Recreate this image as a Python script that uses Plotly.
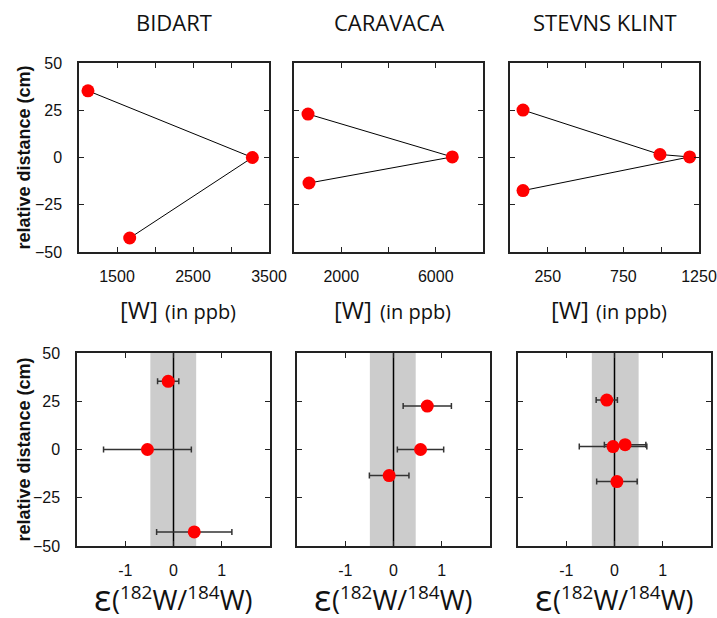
import plotly.graph_objects as go

# ---------------- data ----------------
sites = ["BIDART", "CARAVACA", "STEVNS KLINT"]

# top row: W concentration (ppb) vs relative distance (cm)
w_bidart = [1118, 3281, 1667]
dw_bidart = [35.3, 0, -42.6]
w_caravaca = [593, 6700, 635]
dw_caravaca = [23, 0.3, -13.5]
w_stevns = [86, 992, 1188, 86]
dw_stevns = [25.1, 1.6, 0.3, -17.5]

# bottom row: epsilon(182W/184W) with errors vs relative distance (cm)
eps_bidart = [-0.11, -0.54, 0.43]
eps_err_bidart = [0.22, 0.91, 0.78]
de_bidart = [35.3, 0, -42.7]
eps_caravaca = [0.70, 0.56, -0.09]
eps_err_caravaca = [0.50, 0.48, 0.41]
de_caravaca = [22.5, 0, -13.5]
eps_stevns = [-0.16, -0.03, 0.22, 0.05]
eps_err_stevns = [0.22, 0.70, 0.43, 0.42]
de_stevns = [25.6, 1.5, 2.5, -16.6]

# grey band: reproducibility of terrestrial standard
band_lo = [-0.48, -0.49, -0.47]
band_hi = [0.47, 0.46, 0.50]

# axis ticks
y_ticks = [-50, -25, 0, 25, 50]
w_ranges = [[1000, 3500], [0, 8000], [0, 1250]]
w_tickvals = [[1000, 1500, 2000, 2500, 3000, 3500],
              [0, 2000, 4000, 6000, 8000],
              [0, 250, 500, 750, 1000, 1250]]
w_ticktext = [[" ", "1500", " ", "2500", " ", "3500"],
              [" ", "2000", " ", "6000", " "],
              [" ", "250", " ", "750", " ", "1250"]]
eps_tickvals = [-2, -1, 0, 1, 2]
eps_ticktext = [" ", "-1", "0", "1", " "]

# ---------------- layout geometry ----------------
W, H = 717, 618
top_x = [(79, 269), (294, 483), (510, 699)]
top_y = (63, 252)
bot_x = [(77, 270), (297, 490), (518, 711)]
bot_y = (353, 546)


def xd(a, b):
    return [a / W, b / W]


def yd(a, b):
    return [1 - b / H, 1 - a / H]


RED = "#ff0000"
AX = "#222222"
tickfont = dict(family="Liberation Sans, Arial", size=16, color="#111")

fig = go.Figure()

top_data = [(w_bidart, dw_bidart), (w_caravaca, dw_caravaca), (w_stevns, dw_stevns)]
bot_data = [(eps_bidart, eps_err_bidart, de_bidart),
            (eps_caravaca, eps_err_caravaca, de_caravaca),
            (eps_stevns, eps_err_stevns, de_stevns)]

common_axis = dict(showline=True, linecolor=AX, linewidth=1.5, mirror="ticks",
                   ticks="inside", ticklen=5, tickwidth=1.2, tickcolor=AX,
                   showgrid=False, zeroline=False, tickfont=tickfont,
                   automargin=False)

for i in range(3):
    xa = f"x{i+1}" if i else "x"
    ya = f"y{i+1}" if i else "y"
    wx, dy = top_data[i]
    fig.add_trace(go.Scatter(x=wx, y=dy, mode="lines+markers",
                             line=dict(color="black", width=1),
                             marker=dict(color=RED, size=13),
                             xaxis=xa, yaxis=ya, showlegend=False))
    xb = f"x{i+4}"
    yb = f"y{i+4}"
    ex, ee, ed = bot_data[i]
    fig.add_trace(go.Scatter(x=ex, y=ed, mode="markers",
                             marker=dict(color=RED, size=13),
                             error_x=dict(type="data", array=ee, visible=True,
                                          color="#333", thickness=1.5, width=3),
                             xaxis=xb, yaxis=yb, showlegend=False))

layout = dict(width=W, height=H, margin=dict(l=0, r=0, t=0, b=0, autoexpand=False),
              paper_bgcolor="white", plot_bgcolor="white", showlegend=False)

for i in range(3):
    n = i + 1
    xk = "xaxis" if n == 1 else f"xaxis{n}"
    yk = "yaxis" if n == 1 else f"yaxis{n}"
    layout[xk] = dict(common_axis, domain=xd(*top_x[i]), range=w_ranges[i],
                      tickmode="array", tickvals=w_tickvals[i], ticktext=w_ticktext[i],
                      anchor="y" if n == 1 else f"y{n}", ticklabelstandoff=9)
    layout[yk] = dict(common_axis, domain=yd(*top_y), range=[-50, 50],
                      tickmode="array", tickvals=y_ticks,
                      showticklabels=(i == 0), ticklabelstandoff=12,
                      anchor="x" if n == 1 else f"x{n}")
    m = i + 4
    layout[f"xaxis{m}"] = dict(common_axis, domain=xd(*bot_x[i]), range=[-2, 2],
                               tickmode="array", tickvals=eps_tickvals, ticktext=eps_ticktext,
                               anchor=f"y{m}", ticklabelstandoff=9)
    layout[f"yaxis{m}"] = dict(common_axis, domain=yd(*bot_y), range=[-50, 50],
                               tickmode="array", tickvals=y_ticks,
                               showticklabels=(i == 0), ticklabelstandoff=12,
                               anchor=f"x{m}")

fig.update_layout(**layout)

for i in range(3):
    m = i + 4
    fig.add_shape(type="rect", xref=f"x{m}", yref=f"y{m} domain",
                  x0=band_lo[i], x1=band_hi[i], y0=0, y1=1,
                  fillcolor="#cccccc", line=dict(width=0), layer="below")
    fig.add_shape(type="line", xref=f"x{m}", yref=f"y{m} domain",
                  x0=0, x1=0, y0=0, y1=1, line=dict(color="black", width=1.5),
                  layer="below")

FONT = "Open Sans, Noto Sans"
ann = []
for i in range(3):
    cx = (top_x[i][0] + top_x[i][1]) / 2
    ann.append(dict(text=sites[i], x=cx / W, y=1 - 22 / H, xref="paper", yref="paper",
                    showarrow=False, font=dict(family=FONT, size=22, color="#111"),
                    xanchor="center", yanchor="middle"))
    ann.append(dict(text="[W]", x=(cx - 14) / W, y=1 - 309 / H, xref="paper", yref="paper",
                    showarrow=False, font=dict(family=FONT, size=24, color="#111"),
                    xanchor="right", yanchor="middle"))
    ann.append(dict(text="(in ppb)", x=(cx - 11) / W, y=1 - 311 / H, xref="paper", yref="paper",
                    showarrow=False, font=dict(family=FONT, size=20, color="#111"),
                    xanchor="left", yanchor="middle"))
    bx = (bot_x[i][0] + bot_x[i][1]) / 2
    ann.append(dict(text="ε", x=(bx - 61) / W, y=1 - 597 / H, xref="paper", yref="paper",
                    showarrow=False, font=dict(family=FONT, size=36, color="#111"),
                    xanchor="right", yanchor="middle"))
    ann.append(dict(text="(<sup>182</sup>W/<sup>184</sup>W)", x=(bx - 64) / W, y=1 - 598 / H,
                    xref="paper", yref="paper", showarrow=False,
                    font=dict(family=FONT, size=27, color="#111"),
                    xanchor="left", yanchor="middle"))

for yc in [(top_y[0] + top_y[1]) / 2, (bot_y[0] + bot_y[1]) / 2]:
    ann.append(dict(text="<b>relative distance (cm)</b>", x=23 / W, y=1 - yc / H,
                    xref="paper", yref="paper", showarrow=False, textangle=-90,
                    font=dict(family="Liberation Sans, Arial", size=18, color="#111"),
                    xanchor="center", yanchor="middle"))

fig.update_layout(annotations=ann)
fig.write_html("out.html", config={"displayModeBar": False},
               post_script="document.body.style.margin='0';document.body.style.padding='0';")
